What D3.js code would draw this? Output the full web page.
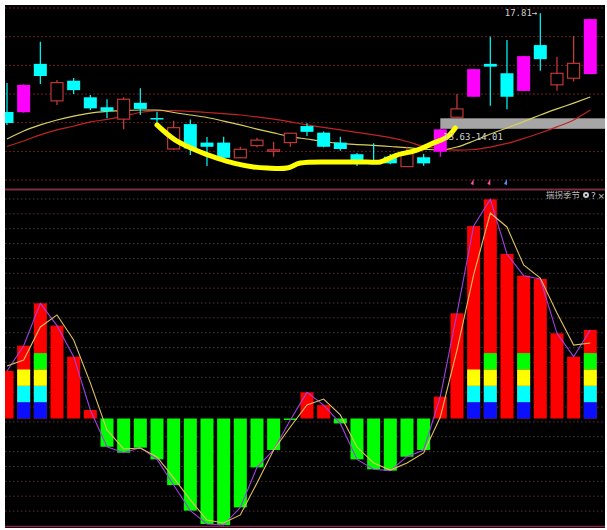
<!DOCTYPE html>
<html>
<head>
<meta charset="utf-8">
<title>K-line</title>
<script src="https://d3js.org/d3.v7.min.js"></script>
<style>
  body { margin: 0; background: #fff; }
</style>
</head>
<body>
<script>
var width = 607, height = 530;

// candles (price units)
var open  = [14.24, 14.23, 15.98, 14.64, 15.37, 14.77, 14.41, 13.98, 14.57, 14.02, 12.90, 13.80,
             13.13, 13.13, 12.58, 13.02, 12.86, 13.13, 13.73, 13.49, 13.13, 12.71, 12.50, 12.62,
             12.26, 12.60, 12.80, 14.05, 14.79, 15.98, 15.64, 15.00, 16.66, 15.22, 15.46, 15.61];
var close = [13.84, 15.22, 15.54, 15.30, 15.03, 14.37, 14.27, 14.70, 14.35, 14.00, 13.67, 12.92,
             12.98, 12.58, 12.89, 13.22, 12.87, 13.47, 13.52, 12.98, 12.90, 12.44, 12.45, 12.38,
             12.74, 12.38, 13.61, 14.35, 15.79, 15.88, 14.79, 16.26, 16.15, 15.64, 16.00, 17.60];
var high  = [15.29, 15.24, 16.78, 15.40, 15.47, 14.85, 14.70, 14.77, 15.10, 14.25, 13.92, 13.97,
             13.33, 13.34, 12.98, 13.31, 13.16, 13.47, 13.83, 13.53, 13.34, 12.75, 13.11, 12.72,
             12.98, 12.72, 13.62, 14.89, 15.80, 16.96, 16.84, 16.27, 17.81, 16.24, 16.99, 17.61];
var low   = [13.77, 14.21, 15.25, 14.49, 14.89, 14.31, 14.01, 13.61, 14.13, 13.85, 12.86, 12.68,
             12.28, 12.54, 12.57, 12.96, 12.62, 12.98, 13.37, 12.96, 12.84, 12.28, 12.38, 12.35,
             12.25, 12.29, 12.62, 14.04, 14.78, 14.46, 14.34, 14.99, 15.73, 15.01, 15.34, 15.60];
var magentaBars = [1, 26, 28, 31, 35];

// moving averages on the price panel
var maYellow = [13.26, 13.55, 13.77, 13.95, 14.09, 14.20, 14.26, 14.29, 14.31, 14.31, 14.22, 14.13,
                14.04, 13.91, 13.77, 13.62, 13.48, 13.35, 13.26, 13.17, 13.10, 13.06, 13.03, 12.99,
                12.95, 12.89, 12.86, 12.97, 13.19, 13.44, 13.66, 13.89, 14.13, 14.35, 14.56, 14.78];
var maRed    = [12.99, 13.19, 13.41, 13.59, 13.73, 13.88, 13.97, 14.09, 14.22, 14.29, 14.29, 14.26,
                14.22, 14.18, 14.13, 14.06, 13.98, 13.88, 13.77, 13.68, 13.59, 13.50, 13.41, 13.31,
                13.17, 12.99, 12.92, 12.86, 12.88, 12.97, 13.10, 13.28, 13.48, 13.70, 13.95, 14.31];

// hand drawn yellow curve (bar index, price)
var trendIdx   = [9.0, 10.1, 11.6, 12.6, 13.6, 14.8, 15.6, 16.8, 17.6, 19.6, 21.6, 22.4, 23.4, 24.6, 25.6, 26.4, 26.9];
var trendPrice = [13.77, 13.22, 12.79, 12.57, 12.39, 12.25, 12.21, 12.21, 12.39, 12.43, 12.43, 12.43, 12.68, 12.86, 13.12, 13.33, 13.66];

var zoneLow = 13.63, zoneHigh = 14.01;
var peakPrice = 17.81, peakBar = 32;

// lower indicator
var osc   = [32, 49, 77.5, 62.5, 41.6, 5.7, -19, -23, -19.6, -27.5, -44.8, -62,
             -71, -71.7, -59.8, -32.9, -21.2, -1, 17.6, 9, -3.3, -27.5, -34.2, -35.1,
             -25.7, -21.2, 14.7, 70.8, 129.5, 147.5, 110.7, 96.1, 93.9, 57.3, 41.6, 59.6];
var oscMa = [35.3, 39.4, 61.6, 69.7, 52.8, 24, -7.7, -20.5, -19.9, -25.9, -40, -54.8,
             -68.3, -70.3, -64.9, -43.4, -21.2, -5.7, 9.1, 13.1, 2.4, -19.2, -29.9, -34.7,
             -29.9, -23.2, 1, 46, 96.6, 138.3, 128.9, 103.3, 94.5, 71, 49.4, 50.8];
var bandCount = [0, 3, 4, 0, 0, 0, 0, 0, 0, 0, 0, 0,
                 0, 0, 0, 0, 0, 0, 0, 0, 0, 0, 0, 0,
                 0, 0, 0, 0, 3, 4, 0, 4, 0, 0, 0, 4];
var bandColors = ["#0a10ff", "#00ffff", "#ffff00", "#00ff00"];
var bandStep = 11;

var svg = d3.select("body").append("svg")
    .attr("width", width)
    .attr("height", height)
    .style("display", "block");

svg.append("rect").attr("width", width).attr("height", height).attr("fill", "#fff");
svg.append("rect").attr("x", 5).attr("y", 5).attr("width", 600).attr("height", 523).attr("fill", "#000");

svg.append("clipPath").attr("id", "clip")
  .append("rect").attr("x", 5).attr("y", 5).attr("width", 600).attr("height", 523);

var g = svg.append("g").attr("clip-path", "url(#clip)");

var n = open.length;
var x = d3.scaleLinear().domain([0, n - 1]).range([7, 590.3]);
var bw = 13;
var yU = d3.scaleLinear().domain([zoneLow, peakPrice]).range([128.8, 13.3]);
var yL = d3.scaleLinear().domain([0, 100]).range([418.5, 269.9]);

// grids
g.selectAll(".gu").data(d3.range(7)).enter().append("line")
    .attr("x1", 5).attr("x2", 605)
    .attr("y1", function (k) { return 8 + k * 28.67; })
    .attr("y2", function (k) { return 8 + k * 28.67; })
    .attr("stroke", "#6a1f22").attr("stroke-dasharray", "2,2");

g.selectAll(".gl").data(d3.range(22)).enter().append("line")
    .attr("x1", 5).attr("x2", 605)
    .attr("y1", function (k) { return 199 + k * 14.86; })
    .attr("y2", function (k) { return 199 + k * 14.86; })
    .attr("stroke", "#4e3838").attr("stroke-dasharray", "1.5,2.5");

g.append("line").attr("x1", 5).attr("x2", 605).attr("y1", 189.5).attr("y2", 189.5)
    .attr("stroke", "#7a2c44").attr("stroke-width", 2);
g.append("line").attr("x1", 5).attr("x2", 605).attr("y1", 526.5).attr("y2", 526.5)
    .attr("stroke", "#8a2a4a").attr("stroke-width", 1.5);

// support zone
g.append("rect")
    .attr("x", x(26)).attr("width", 605 - x(26))
    .attr("y", yU(zoneHigh)).attr("height", yU(zoneLow) - yU(zoneHigh))
    .attr("fill", "#a6a6a6");

// moving averages
var idx = d3.range(n);
function maLine(arr) {
    return d3.line().curve(d3.curveMonotoneX)
        .x(function (i) { return x(i); })
        .y(function (i) { return yU(arr[i]); })(idx);
}
g.append("path").attr("d", maLine(maRed)).attr("fill", "none").attr("stroke", "#c02424").attr("stroke-width", 1.2);
g.append("path").attr("d", maLine(maYellow)).attr("fill", "none").attr("stroke", "#d8d060").attr("stroke-width", 1.2);

// candles
function candleColor(i) {
    if (magentaBars.indexOf(i) >= 0) return "#ff00ff";
    return close[i] >= open[i] ? "#d23a3a" : "#00ffff";
}
function hollow(i) {
    return magentaBars.indexOf(i) < 0 && close[i] >= open[i];
}
var candles = g.selectAll(".candle").data(idx).enter().append("g");
candles.append("line")
    .attr("x1", function (i) { return x(i); })
    .attr("x2", function (i) { return x(i); })
    .attr("y1", function (i) { return yU(high[i]); })
    .attr("y2", function (i) { return yU(low[i]); })
    .attr("stroke", candleColor).attr("stroke-width", 1.2);
candles.append("rect")
    .attr("x", function (i) { return x(i) - bw / 2 + (hollow(i) ? 0.5 : 0); })
    .attr("width", function (i) { return hollow(i) ? bw - 1 : bw; })
    .attr("y", function (i) { return yU(Math.max(open[i], close[i])); })
    .attr("height", function (i) { return Math.max(1.5, Math.abs(yU(open[i]) - yU(close[i]))); })
    .attr("fill", function (i) { return hollow(i) ? "#000" : candleColor(i); })
    .attr("stroke", function (i) { return hollow(i) ? candleColor(i) : "none"; })
    .attr("stroke-width", 1.1);

// hand drawn trend curve
g.append("path")
    .attr("d", d3.line().curve(d3.curveCatmullRom)
        .x(function (k) { return x(trendIdx[k]); })
        .y(function (k) { return yU(trendPrice[k]); })(d3.range(trendIdx.length)))
    .attr("fill", "none").attr("stroke", "#ffff00").attr("stroke-width", 5)
    .attr("stroke-linecap", "round").attr("stroke-linejoin", "round");

// labels on the price panel
g.append("text")
    .attr("x", x(26) + 3).attr("y", yU(zoneLow) + 11)
    .attr("font-family", "DejaVu Sans Mono").attr("font-size", 9).attr("fill", "#d0d0d0")
    .text(zoneLow.toFixed(2) + "-" + zoneHigh.toFixed(2));
g.append("text")
    .attr("x", x(peakBar) - 3).attr("y", yU(peakPrice) + 3)
    .attr("text-anchor", "end")
    .attr("font-family", "DejaVu Sans Mono").attr("font-size", 9).attr("fill", "#d0d0d0")
    .text(peakPrice.toFixed(2) + "→");

// small signal markers
var marks = [{ i: 28, c: "#ff4fa8" }, { i: 29, c: "#ff4fa8" }, { i: 30, c: "#4f8cff" }];
g.selectAll(".mk").data(marks).enter().append("path")
    .attr("d", function (d) {
        var cx = x(d.i) - 1, cy = 182;
        return "M" + (cx - 2) + "," + (cy + 2) + "L" + (cx + 1) + "," + (cy - 3) + "L" + (cx + 1) + "," + (cy + 3) + "Z";
    })
    .attr("fill", function (d) { return d.c; });

// indicator bars
g.selectAll(".bar").data(idx).enter().append("rect")
    .attr("x", function (i) { return x(i) - bw / 2; })
    .attr("width", bw)
    .attr("y", function (i) { return yL(Math.max(0, osc[i])); })
    .attr("height", function (i) { return Math.max(1, Math.abs(yL(osc[i]) - yL(0))); })
    .attr("fill", function (i) { return osc[i] >= 0 ? "#ff0000" : "#00ff00"; });

var bandData = [];
idx.forEach(function (i) {
    for (var b = 0; b < bandCount[i]; b++) bandData.push({ i: i, b: b });
});
g.selectAll(".band").data(bandData).enter().append("rect")
    .attr("x", function (d) { return x(d.i) - bw / 2; })
    .attr("width", bw)
    .attr("y", function (d) { return yL((d.b + 1) * bandStep); })
    .attr("height", function (d) { return yL(d.b * bandStep) - yL((d.b + 1) * bandStep); })
    .attr("fill", function (d) { return bandColors[d.b]; });

function oscLine(arr) {
    return d3.line()
        .x(function (i) { return x(i); })
        .y(function (i) { return yL(arr[i]); })(idx);
}
g.append("path").attr("d", oscLine(osc)).attr("fill", "none").attr("stroke", "#a040e0").attr("stroke-width", 1.1);
g.append("path").attr("d", oscLine(oscMa)).attr("fill", "none").attr("stroke", "#e0c060").attr("stroke-width", 1.1);

// indicator title
g.append("text")
    .attr("x", 546).attr("y", 198)
    .attr("font-family", "Noto Sans CJK SC").attr("font-size", 8.5).attr("fill", "#b8b8b8")
    .text("揣拐季节");
g.append("circle").attr("cx", 586).attr("cy", 195).attr("r", 3).attr("fill", "#c8c8c8");
g.append("circle").attr("cx", 586).attr("cy", 195).attr("r", 1).attr("fill", "#000");
g.append("text")
    .attr("x", 591).attr("y", 198.5)
    .attr("font-family", "DejaVu Sans").attr("font-size", 9).attr("fill", "#c8c8c8")
    .text("?");
g.append("text")
    .attr("x", 597.5).attr("y", 198.5)
    .attr("font-family", "DejaVu Sans").attr("font-size", 9).attr("fill", "#c8c8c8")
    .text("×");
</script>
</body>
</html>
